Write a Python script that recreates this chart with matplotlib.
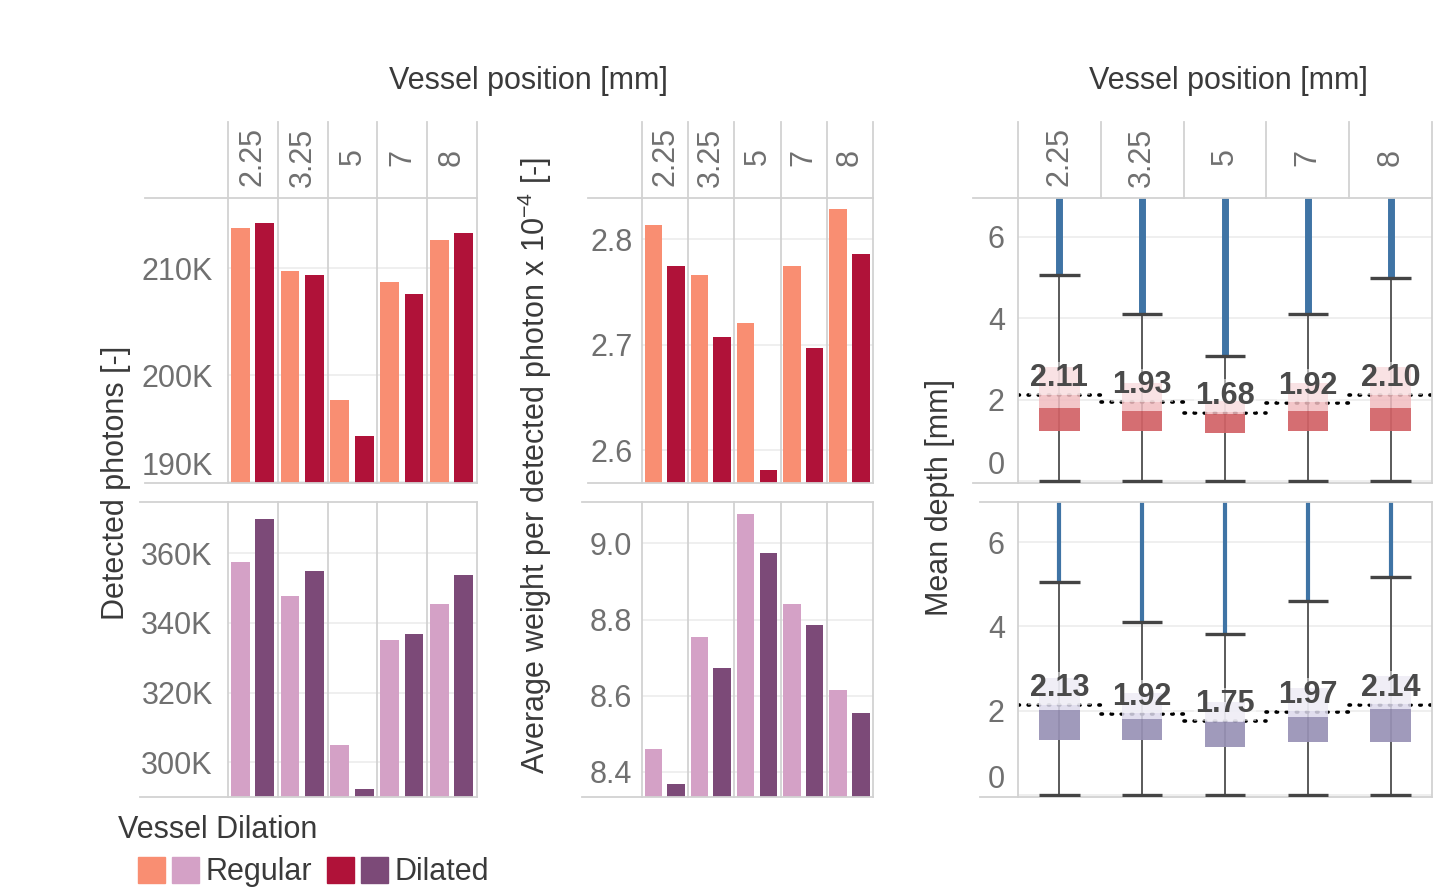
import matplotlib.pyplot as plt
import matplotlib.transforms as mtransforms
import numpy as np
from matplotlib.legend_handler import HandlerTuple
from matplotlib.patches import Patch

plt.rcParams['font.family'] = ['Liberation Sans', 'DejaVu Sans']
plt.rcParams['mathtext.fontset'] = 'custom'
plt.rcParams['mathtext.rm'] = 'Liberation Sans'
plt.rcParams['mathtext.it'] = 'Liberation Sans:italic'

W, H = 1452, 892

positions = ["2.25", "3.25", "5", "7", "8"]

# detected photons, in thousands
photons_reg_top = [213.8, 209.8, 197.7, 208.7, 212.7]
photons_dil_top = [214.3, 209.35, 194.3, 207.6, 213.3]
photons_reg_bot = [357.6, 347.7, 304.9, 335.1, 345.5]
photons_dil_bot = [369.8, 354.9, 292.3, 336.7, 353.8]

# average weight per detected photon x 1e-4
weight_reg_top = [2.813, 2.766, 2.721, 2.775, 2.829]
weight_dil_top = [2.775, 2.707, 2.581, 2.697, 2.786]
weight_reg_bot = [8.460, 8.754, 9.077, 8.840, 8.615]
weight_dil_bot = [8.369, 8.674, 8.976, 8.785, 8.555]

# mean depth box stats [mm]
depth_low_top = [0.0, 0.0, 0.0, 0.0, 0.0]
depth_q1_top = [1.23, 1.23, 1.19, 1.23, 1.23]
depth_med_top = [1.78, 1.72, 1.64, 1.72, 1.78]
depth_q3_top = [2.79, 2.41, 1.96, 2.41, 2.79]
depth_high_top = [5.06, 4.11, 3.08, 4.11, 4.99]
depth_mean_top = [2.11, 1.93, 1.68, 1.92, 2.10]

depth_low_bot = [0.0, 0.0, 0.0, 0.0, 0.0]
depth_q1_bot = [1.30, 1.30, 1.14, 1.26, 1.26]
depth_med_bot = [2.02, 1.79, 1.74, 1.86, 2.04]
depth_q3_bot = [2.77, 2.41, 2.21, 2.53, 2.81]
depth_high_bot = [5.06, 4.10, 3.82, 4.59, 5.18]
depth_mean_bot = [2.13, 1.92, 1.75, 1.97, 2.14]

REG_TOP, DIL_TOP = '#f98e72', '#b01239'
REG_BOT, DIL_BOT = '#d4a1c6', '#7c4a78'
BOX_TOP = ('#d26266', '#f1bcc0')
BOX_BOT = ('#9892b6', '#dcd9ec')
BLUE = '#3f74a5'
TICK = '#707070'
DARK = '#3a3a3a'
DIV = '#d2d2d2'
GRID = '#ececec'
FS = 22

fig = plt.figure(figsize=(W / 100, H / 100), dpi=100)


def px_axes(x0, y0, x1, y1):
    return fig.add_axes([x0 / W, 1 - y1 / H, (x1 - x0) / W, (y1 - y0) / H])


def style(ax, ylim, ticks, labels, pad, left_px, header=False, inner_lines=True):
    x0, x1 = ax.get_position().x0 * W, ax.get_position().x1 * W
    h_px = ax.get_position().height * H
    ax.set_xlim(-0.5, 4.5)
    ax.set_ylim(*ylim)
    ax.set_xticks([])
    ax.set_yticks(ticks)
    ax.set_yticklabels(labels)
    ax.tick_params(axis='y', length=0, pad=pad, labelsize=FS, labelcolor=TICK)
    ax.yaxis.grid(True, color=GRID, lw=1.2)
    ax.set_axisbelow(True)
    for s in ax.spines.values():
        s.set_visible(False)
    ext = (x0 - left_px) / (x1 - x0)
    for yy in (0, 1):
        ax.plot([-ext, 1], [yy, yy], transform=ax.transAxes, color=DIV, lw=1.3, clip_on=False)
    blend = mtransforms.blended_transform_factory(ax.transData, ax.transAxes)
    hdr = 76 / h_px if header else 0
    for i in range(6):
        xv = i - 0.5
        if inner_lines or i in (0, 5):
            ax.plot([xv, xv], [0, 1 + hdr], transform=blend, color=DIV, lw=1.3, clip_on=False)
        elif header:
            ax.plot([xv, xv], [1, 1 + hdr], transform=blend, color=DIV, lw=1.3, clip_on=False)
    if header:
        for i, p in enumerate(positions):
            ax.text(i, 1 + 41 / h_px, p, transform=blend, rotation=90, ha='center', va='center',
                    fontsize=FS, color=TICK)
    return ax


def bar_panel(rect, reg, dil, c_reg, c_dil, ylim, ticks, labels, pad, left_px, header):
    ax = px_axes(*rect)
    x = np.arange(len(positions))
    ax.bar(x - 0.255, reg, width=0.38, color=c_reg, zorder=2)
    ax.bar(x + 0.235, dil, width=0.38, color=c_dil, zorder=2)
    style(ax, ylim, ticks, labels, pad, left_px, header=header)
    return ax


def box_panel(rect, low, q1, med, q3, high, mean, colors, blue_lw, left_px, header):
    ax = px_axes(*rect)
    x = np.arange(len(positions))
    ax.vlines(x, high, 8, color=BLUE, lw=blue_lw, zorder=2)
    ax.vlines(x, low, high, color='#5a5a5a', lw=1.4, zorder=2)
    mline = ax.hlines(mean, x - 0.5, x + 0.5, color='black', lw=2.6, linestyles=(0, (0.4, 2.4)), zorder=2)
    mline.set_capstyle('round')
    ax.bar(x, np.subtract(med, q1), bottom=q1, width=0.49, color=colors[0], alpha=0.92, zorder=3)
    ax.bar(x, np.subtract(q3, med), bottom=med, width=0.49, color=colors[1], alpha=0.85, zorder=3)
    ax.hlines(high, x - 0.245, x + 0.245, color='#444444', lw=2.4, zorder=4)
    ax.hlines(low, x - 0.245, x + 0.245, color='#444444', lw=2.4, zorder=4)
    for i, m in enumerate(mean):
        ax.annotate(f"{m:.2f}", (i, m), xytext=(0, 6.5), textcoords='offset points',
                    ha='center', va='baseline', fontsize=22, fontweight='bold', color='#4a4a4a',
                    zorder=5, bbox=dict(boxstyle='square,pad=0.05', fc='white', alpha=0.5, ec='none'))
    style(ax, (-0.05, 6.95), [0, 2, 4, 6], ["0", "2", "4", "6"], 9.5, left_px,
          header=header, inner_lines=False)
    ax.yaxis.get_major_ticks()[0].label1.set_verticalalignment('bottom')
    return ax


# detected photons
ax = bar_panel((228, 198, 477, 483), photons_reg_top, photons_dil_top, REG_TOP, DIL_TOP,
               (189.9, 216.6), [190, 200, 210], ["190K", "200K", "210K"], 11, 145, True)
ax.yaxis.get_major_ticks()[0].label1.set_verticalalignment('bottom')
bar_panel((228, 502, 477, 797), photons_reg_bot, photons_dil_bot, REG_BOT, DIL_BOT,
          (290.0, 374.7), [300, 320, 340, 360], ["300K", "320K", "340K", "360K"], 11, 140, False)

# average weight per detected photon
bar_panel((642, 198, 873, 483), weight_reg_top, weight_dil_top, REG_TOP, DIL_TOP,
          (2.569, 2.839), [2.6, 2.7, 2.8], ["2.6", "2.7", "2.8"], 7, 588, True)
bar_panel((642, 502, 873, 797), weight_reg_bot, weight_dil_bot, REG_BOT, DIL_BOT,
          (8.334, 9.109), [8.4, 8.6, 8.8, 9.0], ["8.4", "8.6", "8.8", "9.0"], 7, 582, False)

# mean depth
box_panel((1018, 198, 1432, 483), depth_low_top, depth_q1_top, depth_med_top, depth_q3_top,
          depth_high_top, depth_mean_top, BOX_TOP, 5.0, 973, True)
box_panel((1018, 502, 1432, 797), depth_low_bot, depth_q1_bot, depth_med_bot, depth_q3_bot,
          depth_high_bot, depth_mean_bot, BOX_BOT, 3.0, 980, False)

# titles and axis labels
fig.text(528 / W, 1 - 81 / H, "Vessel position [mm]", ha='center', va='center', fontsize=FS, color=DARK)
fig.text(1228 / W, 1 - 81 / H, "Vessel position [mm]", ha='center', va='center', fontsize=FS, color=DARK)
fig.text(116 / W, 1 - 483 / H, "Detected photons [-]", rotation=90, ha='center', va='center',
         fontsize=FS, color=DARK)
fig.text(535 / W, 1 - 465 / H, r"Average weight per detected photon x 10$^{-4}$ [-]", rotation=90,
         ha='center', va='center', fontsize=FS, color=DARK)
fig.text(940 / W, 1 - 497 / H, "Mean depth [mm]", rotation=90, ha='center', va='center',
         fontsize=FS, color=DARK)

# legend
fig.text(118 / W, 1 - 830 / H, "Vessel Dilation", ha='left', va='center', fontsize=FS, color=DARK)
handles = [(Patch(color=REG_TOP), Patch(color=REG_BOT)), (Patch(color=DIL_TOP), Patch(color=DIL_BOT))]
fig.legend(handles, ["Regular", "Dilated"], loc='center left', bbox_to_anchor=(138 / W, 1 - 872 / H),
           ncol=2, frameon=False, fontsize=FS, labelcolor=DARK, borderpad=0, borderaxespad=0,
           handlelength=2.0, handleheight=0.95, handletextpad=0.2, columnspacing=0.5,
           handler_map={tuple: HandlerTuple(ndivide=None, pad=0.24)})

fig.savefig("out.png", dpi=100)
